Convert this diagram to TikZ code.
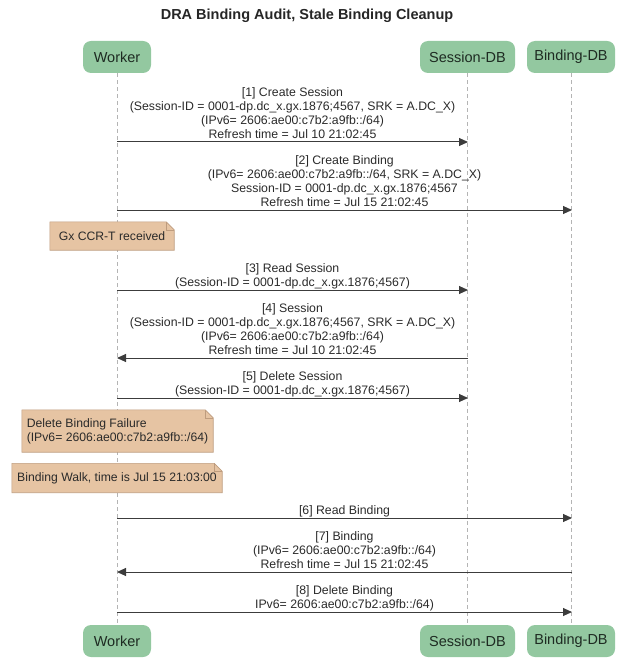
\documentclass[tikz,border=0pt]{standalone}
\usepackage{fontspec}
\setmainfont{Liberation Sans}
\usetikzlibrary{arrows.meta,backgrounds}
\definecolor{partfill}{HTML}{93C8A0}
\definecolor{parttext}{HTML}{1E2B22}
\definecolor{notefill}{HTML}{E6C4A3}
\definecolor{noteline}{HTML}{BE9C7E}
\definecolor{lifecol}{HTML}{B4B4B4}
\definecolor{msgcol}{HTML}{3C3C3C}
\definecolor{txtcol}{HTML}{2A2A2A}
\newcommand\mynote[1]{%
  \begin{scope}[on background layer]
    \filldraw[fill=notefill, draw=noteline, line width=0.6pt]
      (#1.south west) -- (#1.north west) -- ([xshift=-8pt]#1.north east)
      -- ([yshift=-8pt]#1.north east) -- (#1.south east) -- cycle;
    \draw[draw=noteline, line width=0.6pt]
      ([xshift=-8pt]#1.north east) |- ([yshift=-8pt]#1.north east);
  \end{scope}}
\begin{document}
\begin{tikzpicture}[x=1pt,y=-1pt,
  part/.style={rounded corners=8pt, fill=partfill, text=parttext,
    minimum height=32pt, inner sep=0pt, font=\fontsize{14.5}{16}\selectfont},
  lifeline/.style={draw=lifecol, dash pattern=on 4pt off 3pt, line width=0.6pt},
  msg/.style={draw=msgcol, line width=1pt, -{Triangle[length=9pt,width=8pt]}},
  lbl/.style={align=center, text=txtcol, font=\fontsize{12.3}{13.8}\selectfont,
    inner xsep=1pt, inner ysep=1pt, text depth=2.5pt, anchor=south},
  notetxt/.style={align=left, text=txtcol, font=\fontsize{12.2}{14}\selectfont, inner sep=0pt}]
\useasboundingbox (0,0) rectangle (616,660);
\node[font=\bfseries\fontsize{14.5}{16}\selectfont, text=black!85] (title) at (307,16) {DRA Binding Audit, Stale Binding Cleanup};
% participants
\node[part, minimum width=68pt] (wt) at (117,57) {Worker};
\node[part, minimum width=95pt] (st) at (467.5,57) {Session-DB};
\node[part, minimum width=88pt] (bt) at (571,57) {Binding-DB};
\node[part, minimum width=68pt] (wb) at (117,641) {Worker};
\node[part, minimum width=95pt] (sb) at (467.5,641) {Session-DB};
\node[part, minimum width=88pt] (bb) at (571,641) {Binding-DB};
\begin{scope}[on background layer]
  \draw[lifeline] (wt.south) -- (wb.north);
  \draw[lifeline] (st.south) -- (sb.north);
  \draw[lifeline] (bt.south) -- (bb.north);
\end{scope}
% endpoints
\coordinate (w1) at (117,142); \coordinate (s1) at (468,142);
\coordinate (w2) at (117,210); \coordinate (b2) at (572,210);
\coordinate (w3) at (117,290); \coordinate (s3) at (468,290);
\coordinate (w4) at (117,358); \coordinate (s4) at (468,358);
\coordinate (w5) at (117,398); \coordinate (s5) at (468,398);
\coordinate (w6) at (117,518); \coordinate (b6) at (572,518);
\coordinate (w7) at (117,572); \coordinate (b7) at (572,572);
\coordinate (w8) at (117,612); \coordinate (b8) at (572,612);
% message 1
\node[lbl] (l1) at (292.5,142) {[1] Create Session\\(Session-ID = 0001-dp.dc\_x.gx.1876;4567, SRK = A.DC\_X)\\(IPv6= 2606:ae00:c7b2:a9fb::/64)\\Refresh time = Jul 10 21:02:45};
\draw[msg] (w1) -- (s1);
% message 2
\node[lbl] (l2) at (344.5,210) {[2] Create Binding\\(IPv6= 2606:ae00:c7b2:a9fb::/64, SRK = A.DC\_X)\\Session-ID = 0001-dp.dc\_x.gx.1876;4567\\Refresh time = Jul 15 21:02:45};
\draw[msg] (w2) -- (b2);
% note Gx
\node[notetxt, minimum width=124pt, minimum height=28pt] (n1) at (112,236) {Gx CCR-T received};
\mynote{n1}
% message 3
\node[lbl] (l3) at (292.5,290) {[3] Read Session\\(Session-ID = 0001-dp.dc\_x.gx.1876;4567)};
\draw[msg] (w3) -- (s3);
% message 4
\node[lbl] (l4) at (292.5,358) {[4] Session\\(Session-ID = 0001-dp.dc\_x.gx.1876;4567, SRK = A.DC\_X)\\(IPv6= 2606:ae00:c7b2:a9fb::/64)\\Refresh time = Jul 10 21:02:45};
\draw[msg] (s4) -- (w4);
% message 5
\node[lbl] (l5) at (292.5,398) {[5] Delete Session\\(Session-ID = 0001-dp.dc\_x.gx.1876;4567)};
\draw[msg] (w5) -- (s5);
% note 2
\node[notetxt, minimum width=191pt, minimum height=42pt] (n2) at (117.5,431) {Delete Binding Failure\\(IPv6= 2606:ae00:c7b2:a9fb::/64)};
\mynote{n2}
% note 3
\node[notetxt, minimum width=210pt, minimum height=29pt] (n3) at (117,478) {Binding Walk, time is Jul 15 21:03:00};
\mynote{n3}
% message 6
\node[lbl] (l6) at (344.5,518) {[6] Read Binding};
\draw[msg] (w6) -- (b6);
% message 7
\node[lbl] (l7) at (344.5,572) {[7] Binding\\(IPv6= 2606:ae00:c7b2:a9fb::/64)\\Refresh time = Jul 15 21:02:45};
\draw[msg] (b7) -- (w7);
% message 8
\node[lbl] (l8) at (344.5,612) {[8] Delete Binding\\IPv6= 2606:ae00:c7b2:a9fb::/64)};
\draw[msg] (w8) -- (b8);
\end{tikzpicture}
\end{document}
